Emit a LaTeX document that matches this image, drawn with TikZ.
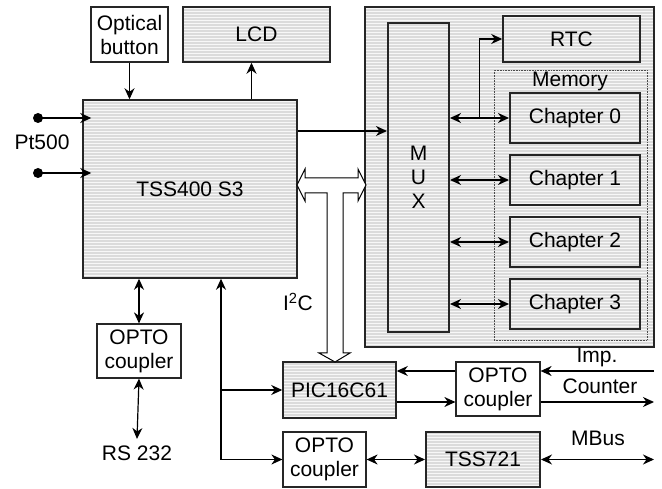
\documentclass[tikz,border=0pt]{standalone}
\usepackage{fontspec}
\setmainfont{Liberation Sans}
\usetikzlibrary{arrows.meta,patterns,calc}
\begin{document}
\begin{tikzpicture}[x=1pt,y=-1pt,
    line width=1.2pt,
    box/.style={draw=black!85,line width=1.5pt,inner sep=0pt,align=center},
    hbox/.style={box,preaction={fill=gray!28},pattern=horizontal lines,pattern color=gray!6},
    wbox/.style={box,fill=white,line width=1.2pt},
    lbl/.style={inner sep=0pt},
    every node/.style={font=\fontsize{21}{24}\selectfont},
    >={Stealth[length=11pt,width=10pt,inset=3.5pt]}
]
\useasboundingbox (0,0) rectangle (662,489);

% upper left
\node[wbox,minimum width=77pt,minimum height=55pt] (btn) at (129.5,34.5) {Optical\\button};
\node[hbox,minimum width=147pt,minimum height=55pt] (lcd) at (256.5,34.5) {LCD};
\node[hbox,minimum width=214pt,minimum height=178pt] (tss) at (190,189) {TSS400 S3};
\node[lbl] (pt) at (42,142) {Pt500};

% memory panel
\node[hbox,minimum width=289pt,minimum height=340pt] (panel) at (509.5,177) {};
\node[hbox,line width=2pt,minimum width=61pt,minimum height=309pt] (mux) at (418.5,177.5) {M\\U\\X};
\node[hbox,minimum width=137pt,minimum height=46pt] (rtc) at (571.5,39) {RTC};
\node[draw=black!70,densely dotted,line width=0.6pt,minimum width=153pt,minimum height=270pt] (mem) at (570.5,205) {};
\node[lbl] (memlbl) at (570,81) {Memory};
\foreach \i/\y in {0/118,1/180,2/242,3/304}
  \node[hbox,line width=2pt,minimum width=130pt,minimum height=50pt] (ch\i) at (575,\y) {Chapter \i};

% lower part
\node[wbox,minimum width=84pt,minimum height=54pt] (opto1) at (139,351) {OPTO\\coupler};
\node[lbl] (rs) at (137,453) {RS 232};
\node[hbox,minimum width=113pt,minimum height=56pt] (pic) at (339.5,390) {PIC16C61};
\node[wbox,minimum width=84pt,minimum height=54pt] (opto2) at (498,389) {OPTO\\coupler};
\node[wbox,minimum width=83pt,minimum height=55pt] (opto3) at (324.5,459.5) {OPTO\\coupler};
\node[hbox,line width=2pt,minimum width=114pt,minimum height=55pt] (tss721) at (483,459.5) {TSS721};
\node[lbl] (i2c) at (298,302) {I\textsuperscript{2}C};
\node[lbl] (implbl) at (597,357) {Imp.};
\node[lbl] (cntlbl) at (600,386) {Counter};
\node[lbl] (mbuslbl) at (598,438) {MBus};

\coordinate (p1) at (38,118);
\coordinate (p2) at (38,173);
\coordinate (mx) at (0,131);
\coordinate (bus) at (221,0);
\coordinate (ra) at (0,371);
\coordinate (rb) at (0,402);
\coordinate (imp) at (654,371);
\coordinate (cnt) at (654,402);
\coordinate (mbus) at (654,459);

% connectors
\fill (p1) circle (5pt);
\fill (p2) circle (5pt);
\draw[->] (p1) -- ([xshift=9pt]p1 -| tss.west);
\draw[->] (p2) -- ([xshift=9pt]p2 -| tss.west);
\draw[->] (btn.south) -- (btn.south |- tss.north);
\draw[->] ([xshift=-5pt]lcd.south |- tss.north) -- ([xshift=-5pt]lcd.south);
\draw[->] (tss.east |- mx) -- (mux.west |- mx);
\foreach \i in {0,...,3}
  \draw[<->] (mux.east |- ch\i.west) -- (ch\i.west);
\draw[->] ($(mux.east |- ch0.west)!0.5!(ch0.west)$) |- (rtc.west);

\draw[<->] (opto1.north) -- (opto1.north |- tss.south);
\draw[<->] (opto1.south) -- ([yshift=6pt]rs.north);
\draw[<->] (bus |- tss.south) -- (bus |- opto3.west) -- (opto3.west);
\draw[->] (bus |- pic.west) -- (pic.west);
\draw[->] (opto2.west |- ra) -- (pic.east |- ra);
\draw[->] (pic.east |- rb) -- (opto2.west |- rb);
\draw[->] (imp) -- (opto2.east |- imp);
\draw[->] (opto2.east |- cnt) -- (cnt);
\draw[<->] (opto3.east) -- (tss721.west);
\draw[<->] (tss721.east) -- (mbus |- tss721.east);

% I2C bus
\draw[fill=white,line width=1pt] (297,185) -- (305,169) -- (305,178) -- (358,178) -- (358,169)
  -- (366,185) -- (358,201) -- (358,193) -- (343,193) -- (343,353) -- (350,353) -- (335,362)
  -- (319,353) -- (327,353) -- (327,193) -- (305,193) -- (305,201) -- cycle;
\end{tikzpicture}
\end{document}
